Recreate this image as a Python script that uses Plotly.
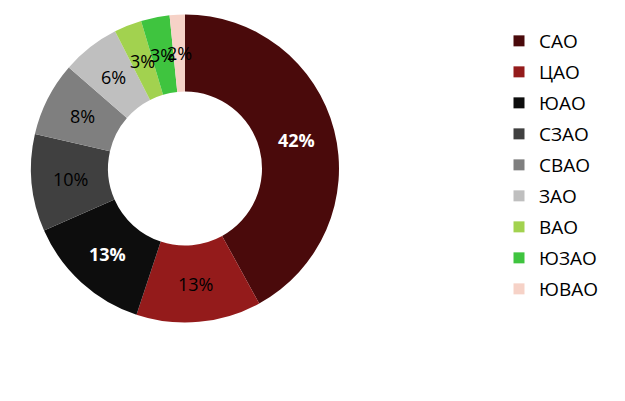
import math
import plotly.graph_objects as go

districts = ["САО", "ЦАО", "ЮАО", "СЗАО", "СВАО", "ЗАО", "ВАО", "ЮЗАО", "ЮВАО"]
shares = [42.0, 13.1, 13.3, 10.2, 7.8, 6.1, 2.9, 3.0, 1.6]
colors = ["#4a0a0b", "#941b1b", "#0d0d0d", "#404040", "#7f7f7f",
          "#bfbfbf", "#a2d24f", "#3fc43f", "#f6d2c7"]
label_bold = [True, False, True, False, False, False, False, False, False]

W, H = 625, 401
OFF = 8  # page body margin offset
cx, cy, r = 185 - OFF, 168.5 - OFF, 154
hole = 0.5

fig = go.Figure()
fig.add_trace(go.Pie(
    labels=districts, values=shares, sort=False, direction="clockwise",
    rotation=0, hole=hole,
    marker=dict(colors=colors, line=dict(width=0)),
    textinfo="none",
    showlegend=False,
    domain=dict(x=[(cx - r) / W, (cx + r) / W],
                y=[(H - cy - r) / H, (H - cy + r) / H]),
))

# percentage labels at the middle of each ring segment
total = sum(shares)
rm = r * (1 + hole) / 2
cum = 0.0
for name, v, bold in zip(districts, shares, label_bold):
    mid = (cum + v / 2) / total * 2 * math.pi
    cum += v
    px = cx + rm * math.sin(mid)
    py = cy - rm * math.cos(mid)
    pct = f"{round(v / total * 100):d}%"
    fig.add_annotation(
        x=px / W, y=1 - py / H, xref="paper", yref="paper",
        text=f"<b>{pct}</b>" if bold else pct, showarrow=False,
        font=dict(family="Open Sans", size=18,
                  color="white" if bold else "black"),
        xanchor="center", yanchor="middle",
    )

for i, (name, col) in enumerate(zip(districts, colors)):
    fig.add_trace(go.Scatter(
        x=[None], y=[None], mode="markers", name=name,
        legendgroup=f"g{i}",
        marker=dict(symbol="square", size=11, color=col),
    ))

fig.update_layout(
    width=W, height=H,
    margin=dict(l=0, r=0, t=0, b=0),
    paper_bgcolor="white", plot_bgcolor="white",
    xaxis=dict(visible=False), yaxis=dict(visible=False),
    legend=dict(
        x=491 / W, xanchor="left", y=1 - 14 / H, yanchor="top",
        font=dict(family="Open Sans", size=19, color="black"),
        traceorder="grouped", tracegroupgap=3.3,
        bgcolor="rgba(0,0,0,0)", borderwidth=0,
    ),
)

fig.write_html("out.html")
